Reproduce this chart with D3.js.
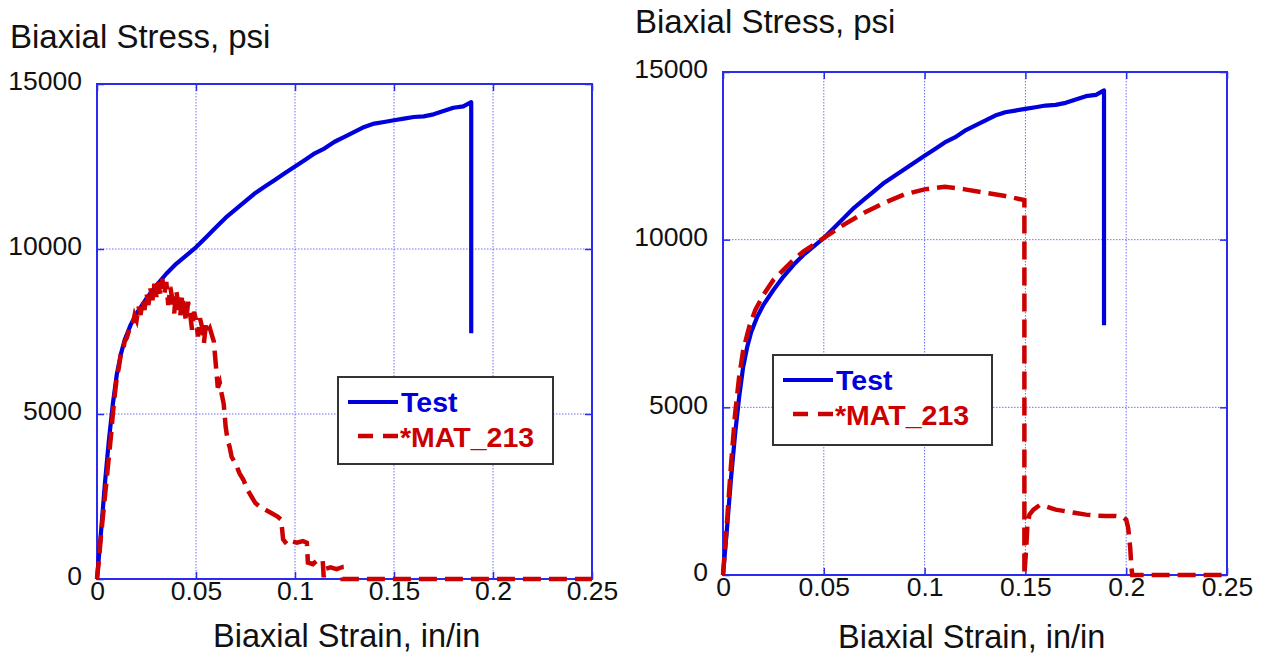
<!DOCTYPE html>
<html>
<head>
<meta charset="utf-8">
<script src="https://cdn.jsdelivr.net/npm/d3@7"></script>
<style>
  body { margin: 0; background: #fff; }
  svg { display: block; font-family: "Liberation Sans", Arial, sans-serif; }
</style>
</head>
<body>
<div id="chart"></div>
<script>
// strain ticks / stress ticks
var strainTicks = [0, 0.05, 0.1, 0.15, 0.2, 0.25];
var stressTicks = [0, 5000, 10000, 15000];
var seriesNames = ["Test", "*MAT_213"];

// test curve, same in both panels  [strain, stress]
var testCurve = [
  [0,0],[0.002,1400],[0.004,2900],[0.006,4200],[0.008,5300],[0.010,6200],[0.012,6800],
  [0.014,7250],[0.017,7700],[0.020,8050],[0.025,8500],[0.030,8900],[0.035,9250],[0.040,9550],
  [0.045,9800],[0.050,10050],[0.055,10350],[0.060,10650],[0.065,10950],[0.070,11200],
  [0.075,11450],[0.080,11700],[0.085,11900],[0.090,12100],[0.095,12300],[0.100,12500],
  [0.105,12700],[0.110,12900],[0.115,13050],[0.120,13250],[0.125,13400],[0.130,13550],
  [0.135,13700],[0.140,13800],[0.145,13850],[0.150,13900],[0.155,13950],[0.160,14000],
  [0.165,14020],[0.170,14080],[0.175,14180],[0.180,14280],[0.185,14320],[0.189,14450],
  [0.189,7450]
];

// *MAT_213, left panel (noisy)
var modelLeft = [
  [0,0],[0.001,600],[0.002,1300],[0.003,1900],[0.004,2500],[0.005,3100],[0.006,3700],
  [0.007,4300],[0.008,5000],[0.009,5600],[0.010,6100],[0.011,6400],[0.012,6800],[0.013,6900],
  [0.014,7200],[0.015,7300],[0.016,7500],[0.017,7600],[0.018,7700],[0.019,8000],[0.020,7850],
  [0.021,8250],[0.022,8000],[0.023,8450],[0.024,8150],[0.025,8650],[0.026,8300],[0.027,8800],
  [0.028,8450],[0.029,8950],[0.030,8550],[0.031,9000],[0.032,8600],[0.033,9100],[0.034,8650],
  [0.035,9000],[0.036,8300],[0.037,8850],[0.038,8500],[0.039,8050],[0.040,8750],[0.041,8350],
  [0.042,7950],[0.043,8600],[0.044,8200],[0.045,7800],[0.046,8400],[0.047,8050],[0.048,7550],
  [0.049,8100],[0.050,7850],[0.051,7350],[0.052,7900],[0.053,7650],[0.054,7150],[0.055,7700],
  [0.056,7500],[0.057,7600],[0.058,7400],[0.059,7200],[0.060,6500],[0.061,5800],[0.062,5950],
  [0.063,5600],[0.064,5300],[0.065,4600],[0.066,4200],[0.067,4000],[0.068,3700],[0.070,3500],
  [0.072,3200],[0.074,3000],[0.076,2700],[0.078,2500],[0.080,2300],[0.082,2200],[0.085,2100],
  [0.088,2000],[0.091,1900],[0.093,1800],[0.094,1200],[0.096,1050],[0.098,1150],[0.101,1100],
  [0.104,1150],[0.106,1100],[0.1065,500],[0.109,450],[0.112,600],[0.114,550],[0.1145,50],
  [0.115,300],[0.118,350],[0.121,300],[0.1235,350],[0.124,0],[0.25,0]
];

// *MAT_213, right panel
var modelRight = [
  [0,0],[0.002,1600],[0.004,3300],[0.006,4800],[0.008,5900],[0.010,6700],[0.013,7400],
  [0.016,7900],[0.020,8350],[0.025,8800],[0.030,9100],[0.035,9400],[0.040,9650],[0.045,9850],
  [0.050,10050],[0.060,10450],[0.070,10800],[0.080,11100],[0.090,11350],[0.100,11500],
  [0.110,11580],[0.120,11500],[0.130,11400],[0.140,11300],[0.1495,11180],[0.1495,0],
  [0.1505,900],[0.151,1500],[0.152,1800],[0.154,1950],[0.157,2080],[0.160,2050],[0.165,1950],
  [0.170,1900],[0.175,1850],[0.180,1800],[0.185,1770],[0.190,1760],[0.195,1760],[0.198,1740],
  [0.200,1650],[0.201,1400],[0.202,800],[0.2025,300],[0.203,0],[0.25,0]
];

var blue = "#0000dd", red = "#cc0000", frameBlue = "#2b2bf0", gridBlue = "#6f6ff5";

var svg = d3.select("#chart").append("svg")
  .attr("width", 1266)
  .attr("height", 656);

var panels = [
  {x0: 97, y0: 84, w: 495, h: 495, model: modelLeft,
   titleX: 10, titleY: 48, xlabX: 213, xlabY: 647,
   legend: {x: 338, y: 377, w: 215, h: 87}},
  {x0: 723, y0: 72, w: 504, h: 503, model: modelRight,
   titleX: 635, titleY: 33, xlabX: 838, xlabY: 648,
   legend: {x: 773, y: 355, w: 219, h: 90}}
];

panels.forEach(DrawPanel);

function DrawPanel(p) {
  var x = d3.scaleLinear().domain([0, 0.25]).range([p.x0, p.x0 + p.w]);
  var y = d3.scaleLinear().domain([0, 15000]).range([p.y0 + p.h, p.y0]);
  var g = svg.append("g");

  //grille pointillée
  g.append("g").selectAll("line").data(strainTicks.slice(1, -1)).join("line")
    .attr("x1", d => x(d)).attr("x2", d => x(d))
    .attr("y1", p.y0).attr("y2", p.y0 + p.h)
    .attr("stroke", gridBlue).attr("stroke-width", 1).attr("stroke-dasharray", "1.5,1.5");
  g.append("g").selectAll("line").data(stressTicks.slice(1, -1)).join("line")
    .attr("y1", d => y(d)).attr("y2", d => y(d))
    .attr("x1", p.x0).attr("x2", p.x0 + p.w)
    .attr("stroke", gridBlue).attr("stroke-width", 1).attr("stroke-dasharray", "1.5,1.5");

  //axes (labels + ticks inside)
  var tickLen = 7;
  var xa = g.append("g").attr("transform", "translate(0," + (p.y0 + p.h) + ")")
    .call(d3.axisBottom(x).tickValues(strainTicks).tickSize(-tickLen).tickPadding(2)
      .tickFormat(d => d === 0 ? "0" : String(+d.toFixed(2))));
  var ya = g.append("g").attr("transform", "translate(" + p.x0 + ",0)")
    .call(d3.axisLeft(y).tickValues(stressTicks).tickSize(-tickLen).tickPadding(15)
      .tickFormat(d3.format("d")));
  g.append("g").attr("transform", "translate(0," + p.y0 + ")")
    .call(d3.axisTop(x).tickValues(strainTicks).tickSize(-tickLen).tickFormat(""));
  g.append("g").attr("transform", "translate(" + (p.x0 + p.w) + ",0)")
    .call(d3.axisRight(y).tickValues(stressTicks).tickSize(-tickLen).tickFormat(""));
  g.selectAll(".domain").remove();
  g.selectAll(".tick line").attr("stroke", frameBlue).attr("stroke-width", 1.5);
  g.selectAll(".tick text").attr("fill", "#111").style("font-size", "26.5px")
    .style("font-family", "\"Liberation Sans\", Arial, sans-serif");
  xa.selectAll(".tick text").attr("dy", "0.72em");
  ya.selectAll(".tick text").attr("dy", "0.22em");

  //cadre
  g.append("rect")
    .attr("x", p.x0).attr("y", p.y0).attr("width", p.w).attr("height", p.h)
    .attr("fill", "none").attr("stroke", frameBlue).attr("stroke-width", 2);

  //courbes
  var line = d3.line().x(d => x(d[0])).y(d => y(d[1]));
  g.append("path").datum(testCurve).attr("d", line)
    .attr("fill", "none").attr("stroke", blue).attr("stroke-width", 4.2)
    .attr("stroke-linejoin", "round");
  g.append("path").datum(p.model).attr("d", line)
    .attr("fill", "none").attr("stroke", red).attr("stroke-width", 4.5)
    .attr("stroke-dasharray", "18,8");

  //titres
  g.append("text").attr("x", p.titleX).attr("y", p.titleY)
    .style("font-size", "33px").attr("fill", "#111").text("Biaxial Stress, psi");
  g.append("text").attr("x", p.xlabX).attr("y", p.xlabY)
    .style("font-size", "32.5px").attr("fill", "#111").text("Biaxial Strain, in/in");

  //légende
  var L = p.legend;
  var lg = g.append("g");
  lg.append("rect").attr("x", L.x).attr("y", L.y).attr("width", L.w).attr("height", L.h)
    .attr("fill", "#fff").attr("stroke", "#333").attr("stroke-width", 2);
  lg.append("line").attr("x1", L.x + 10).attr("x2", L.x + 60)
    .attr("y1", L.y + 25).attr("y2", L.y + 25)
    .attr("stroke", blue).attr("stroke-width", 4);
  lg.append("text").attr("x", L.x + 63).attr("y", L.y + 35)
    .style("font-size", "28.5px").style("font-weight", "bold").attr("fill", blue)
    .text(seriesNames[0]);
  lg.append("line").attr("x1", L.x + 20).attr("x2", L.x + 60)
    .attr("y1", L.y + 59).attr("y2", L.y + 59)
    .attr("stroke", red).attr("stroke-width", 4.5).attr("stroke-dasharray", "15,10");
  lg.append("text").attr("x", L.x + 62).attr("y", L.y + 70)
    .style("font-size", "28.5px").style("font-weight", "bold").attr("fill", red)
    .text(seriesNames[1]);
}
</script>
</body>
</html>
